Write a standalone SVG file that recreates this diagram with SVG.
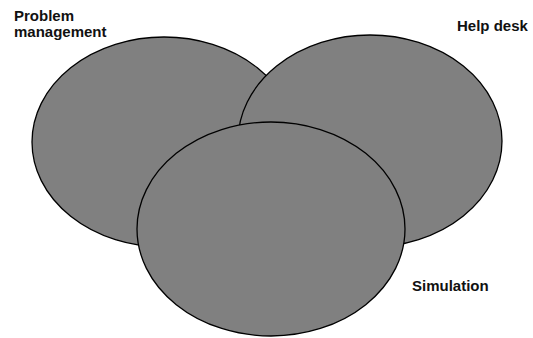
<svg xmlns="http://www.w3.org/2000/svg" width="533" height="338" viewBox="0 0 533 338">
<style>
.set{fill:#808080;stroke:#000;stroke-width:1.3}
.lbl{font-family:"Liberation Sans",Arial,sans-serif;font-weight:bold;font-size:15px;fill:#111}
</style>
<rect width="533" height="338" fill="#fff"/>
<g id="problem-management">
<ellipse class="set" cx="164" cy="142" rx="132" ry="105"/>
<text class="lbl" x="14" y="21">Problem</text>
<text class="lbl" x="14" y="37">management</text>
</g>
<g id="help-desk">
<ellipse class="set" cx="370" cy="141" rx="132" ry="106"/>
<text class="lbl" x="457" y="31">Help desk</text>
</g>
<g id="simulation">
<ellipse class="set" cx="271" cy="229" rx="134" ry="107"/>
<text class="lbl" x="412" y="291">Simulation</text>
</g>
<g id="connectors"/>
</svg>
